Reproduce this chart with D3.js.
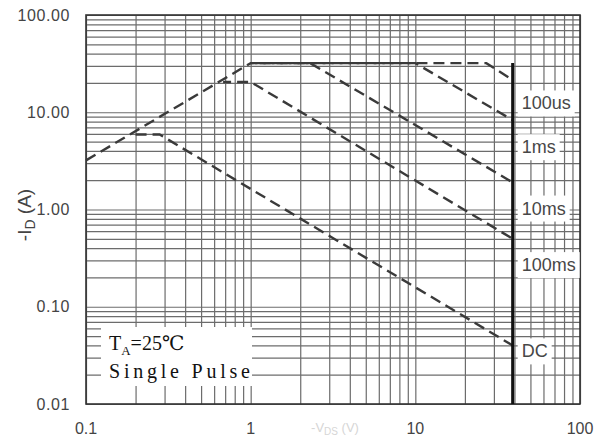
<!DOCTYPE html>
<html><head><meta charset="utf-8">
<script src="https://cdn.jsdelivr.net/npm/d3@7"></script>
<style>body{margin:0;background:#fff}svg{display:block}</style>
</head><body><svg id="c" width="602" height="437"></svg>
<script>
const xDomain = [0.1, 100];
const yDomain = [0.01, 100];
const xTickValues = [0.1, 1, 10, 100];
const xTickLabels = ["0.1", "1", "10", "100"];
const yTickValues = [100, 10, 1, 0.1, 0.01];
const yTickLabels = ["100.00", "10.00", "1.00", "0.10", "0.01"];

const seriesNames = ["100us", "1ms", "10ms", "100ms", "DC"];
const s100us = [[0.1, 3.2], [1, 32], [27, 32], [39, 21.5]];
const s1ms   = [[1, 32], [10, 32], [39, 8.3]];
const s10ms  = [[1, 32], [2.3, 32], [39, 1.9]];
const s100ms = [[0.68, 20.5], [1, 20.5], [39, 0.5]];
const sDC    = [[0.2, 5.9], [0.28, 5.9], [39, 0.04]];
const seriesData = [s100us, s1ms, s10ms, s100ms, sDC];
const labelCurrent = [12.4, 4.4, 1.03, 0.27, 0.035];
const limitVoltage = 39;
const limitCurrent = 32;

const svg = d3.select("#c");
const L = 86, R = 580, T = 15, B = 404;
const x = d3.scaleLog().domain(xDomain).range([L, R]);
const y = d3.scaleLog().domain(yDomain).range([B, T]);

// grid
const gridColor = "#6c6c6c";
svg.append("g").attr("transform", `translate(0,${B})`)
  .call(d3.axisBottom(x).ticks(10).tickSize(-(B - T)).tickFormat(""))
  .call(g => g.select(".domain").remove())
  .call(g => g.selectAll("line").attr("stroke", gridColor).attr("stroke-width", 1.2));
svg.append("g").attr("transform", `translate(${L},0)`)
  .call(d3.axisLeft(y).ticks(10).tickSize(-(R - L)).tickFormat(""))
  .call(g => g.select(".domain").remove())
  .call(g => g.selectAll("line").attr("stroke", gridColor).attr("stroke-width", 1.2));

// frame
svg.append("rect").attr("x", L).attr("y", T).attr("width", R - L).attr("height", B - T)
  .attr("fill", "none").attr("stroke", "#333").attr("stroke-width", 1.6);

// series
const line = d3.line().x(d => x(d[0])).y(d => y(d[1]));
const offsets = [0, 13, 8, 3, 0];
seriesData.forEach((s, i) => {
  svg.append("path").attr("d", line(s)).attr("fill", "none")
    .attr("stroke", "#3a3a3a").attr("stroke-width", 2.4)
    .attr("stroke-dasharray", "11,6").attr("stroke-dashoffset", offsets[i]);
});

// voltage limit line
svg.append("line").attr("x1", x(limitVoltage)).attr("x2", x(limitVoltage))
  .attr("y1", y(limitCurrent)).attr("y2", B)
  .attr("stroke", "#111").attr("stroke-width", 3);

// series labels with white background
seriesNames.forEach((n, i) => {
  const g = svg.append("g");
  const t = g.append("text").attr("x", x(limitVoltage) + 9).attr("y", y(labelCurrent[i]))
    .attr("dy", "0.35em").attr("font-family", "Arial, 'Liberation Sans', sans-serif")
    .attr("font-size", 18).attr("fill", "#474747").text(n);
  const bb = t.node().getBBox();
  g.insert("rect", "text").attr("x", bb.x - 4).attr("y", bb.y - 3)
    .attr("width", bb.width + 8).attr("height", bb.height + 6).attr("fill", "#fff");
});

// y tick labels
yTickValues.forEach((v, i) => {
  svg.append("text").attr("x", 70).attr("y", y(v)).attr("dy", "0.35em")
    .attr("text-anchor", "end").attr("font-family", "Arial, 'Liberation Sans', sans-serif")
    .attr("font-size", 16).attr("letter-spacing", 0.6).attr("fill", "#444").text(yTickLabels[i]);
});
// x tick labels
xTickValues.forEach((v, i) => {
  svg.append("text").attr("x", x(v)).attr("y", 434)
    .attr("text-anchor", "middle").attr("font-family", "Arial, 'Liberation Sans', sans-serif")
    .attr("font-size", 16).attr("fill", "#444").text(xTickLabels[i]);
});

// y axis title
const yt = svg.append("text").attr("transform", "translate(31,215) rotate(-90)")
  .attr("text-anchor", "middle").attr("font-family", "Arial, 'Liberation Sans', sans-serif")
  .attr("font-size", 19).attr("fill", "#444");
yt.append("tspan").text("-I");
yt.append("tspan").attr("font-size", 14).attr("dy", 4).text("D");
yt.append("tspan").attr("dy", -4).text(" (A)");

// x axis title (faint, at bottom edge)
const xt = svg.append("text").attr("x", 335).attr("y", 432)
  .attr("text-anchor", "middle").attr("font-family", "Arial, 'Liberation Sans', sans-serif")
  .attr("font-size", 13).attr("fill", "#d6d6d6");
xt.append("tspan").text("-V");
xt.append("tspan").attr("font-size", 10).attr("dy", 3).text("DS");
xt.append("tspan").attr("dy", -3).text(" (V)");

// annotation box
svg.append("rect").attr("x", 101).attr("y", 327).attr("width", 151).attr("height", 59).attr("fill", "#fff");
const a1 = svg.append("text").attr("x", 109).attr("y", 350)
  .attr("font-family", "'Liberation Serif', 'DejaVu Serif', serif").attr("font-size", 20).attr("fill", "#111");
a1.append("tspan").text("T");
a1.append("tspan").attr("font-size", 13).attr("dy", 5).text("A");
a1.append("tspan").attr("dy", -5).text("=25℃");
svg.append("text").attr("x", 109).attr("y", 378)
  .attr("font-family", "'Liberation Serif', 'DejaVu Serif', serif").attr("font-size", 20).attr("fill", "#111")
  .attr("textLength", 141).attr("lengthAdjust", "spacing").text("Single Pulse");
</script></body></html>
